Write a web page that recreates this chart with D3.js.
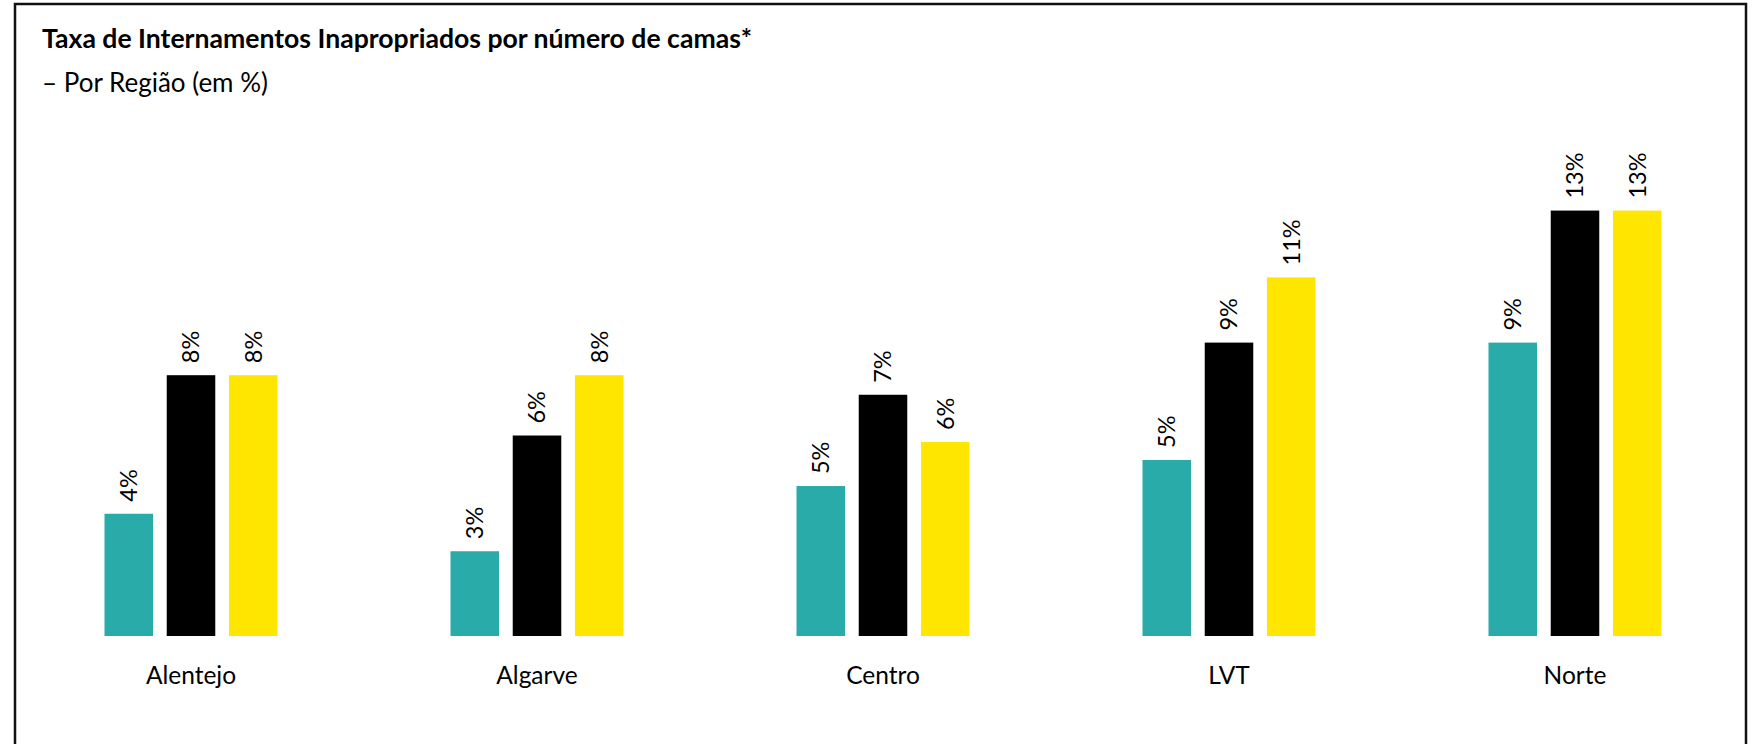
<html>
<head>
  <meta charset="utf-8">
  <title>Taxa de Internamentos Inapropriados por número de camas</title>
  <script src="https://d3js.org/d3.v7.min.js"></script>
  <style>
    body { margin: 0; background: #fff; }
    text { font-family: Lato, "Open Sans", sans-serif; fill: #000; }
  </style>
</head>
<body>
  <div id="chart"></div>

  <script>
    // data (in %)
    var regions = ["Alentejo", "Algarve", "Centro", "LVT", "Norte"];
    var seriesNames = ["serie1", "serie2", "serie3"];
    var serie1 = [3.75, 2.6, 4.6, 5.4, 9.0];
    var serie2 = [8.0, 6.15, 7.4, 9.0, 13.05];
    var serie3 = [8.0, 8.0, 5.95, 11.0, 13.05];
    var colors = ["#29ACA9", "#000000", "#FFE600"];

    var title = "Taxa de Internamentos Inapropriados por número de camas*";
    var subtitle = "– Por Região (em %)";

    var width = 1758, height = 744;

    var svg = d3.select("#chart").append("svg")
      .attr("width", width).attr("height", height);

    // frame round the chart
    svg.append("rect")
      .attr("x", 15).attr("y", 4)
      .attr("width", 1731).attr("height", 760)
      .style("fill", "none").style("stroke", "#111").style("stroke-width", 2.5);

    svg.append("text")
      .attr("x", 42).attr("y", 48)
      .style("font-size", "26.6px").style("font-weight", "bold")
      .text(title);

    svg.append("text")
      .attr("x", 42).attr("y", 92)
      .style("font-size", "26px")
      .text(subtitle);

    var table = regions.map(function(r, i) {
      return { region: r, values: [serie1[i], serie2[i], serie3[i]] };
    });

    var x0 = d3.scaleBand().domain(regions).range([18, 1748])
      .paddingInner(0.5).paddingOuter(0.25);
    var x1 = d3.scaleBand().domain(seriesNames).range([0, x0.bandwidth()])
      .paddingInner(0.22).paddingOuter(0);
    var y = d3.scaleLinear().domain([0, 14]).range([636, 179.6]);
    var colorScale = d3.scaleOrdinal().domain(seriesNames).range(colors);

    var groups = svg.selectAll("g.region").data(table).enter().append("g")
      .attr("class", "region")
      .attr("transform", function(d) { return "translate(" + x0(d.region) + ",0)"; });

    var bars = groups.selectAll("g.bar").data(function(d) {
        return d.values.map(function(v, j) { return { key: seriesNames[j], value: v }; });
      }).enter().append("g").attr("class", "bar");

    bars.append("rect")
      .attr("x", function(d) { return x1(d.key); })
      .attr("y", function(d) { return y(d.value); })
      .attr("width", x1.bandwidth())
      .attr("height", function(d) { return y(0) - y(d.value); })
      .style("fill", function(d) { return colorScale(d.key); });

    // rotated value labels above the bars
    bars.append("text")
      .attr("transform", function(d) {
        return "translate(" + (x1(d.key) + x1.bandwidth() / 2) + "," + (y(d.value) - 12) + ") rotate(-90)";
      })
      .attr("dy", "0.36em")
      .style("font-size", "23.5px")
      .text(function(d) { return Math.round(d.value) + "%"; });

    // category axis, labels only
    var axis = svg.append("g")
      .attr("transform", "translate(0," + y(0) + ")")
      .call(d3.axisBottom(x0).tickSize(0).tickPadding(31));
    axis.select(".domain").remove();
    axis.selectAll("text")
      .style("font-family", "Lato, 'Open Sans', sans-serif")
      .style("font-size", "24.5px")
      .attr("fill", "#000");
  </script>
</body>
</html>
